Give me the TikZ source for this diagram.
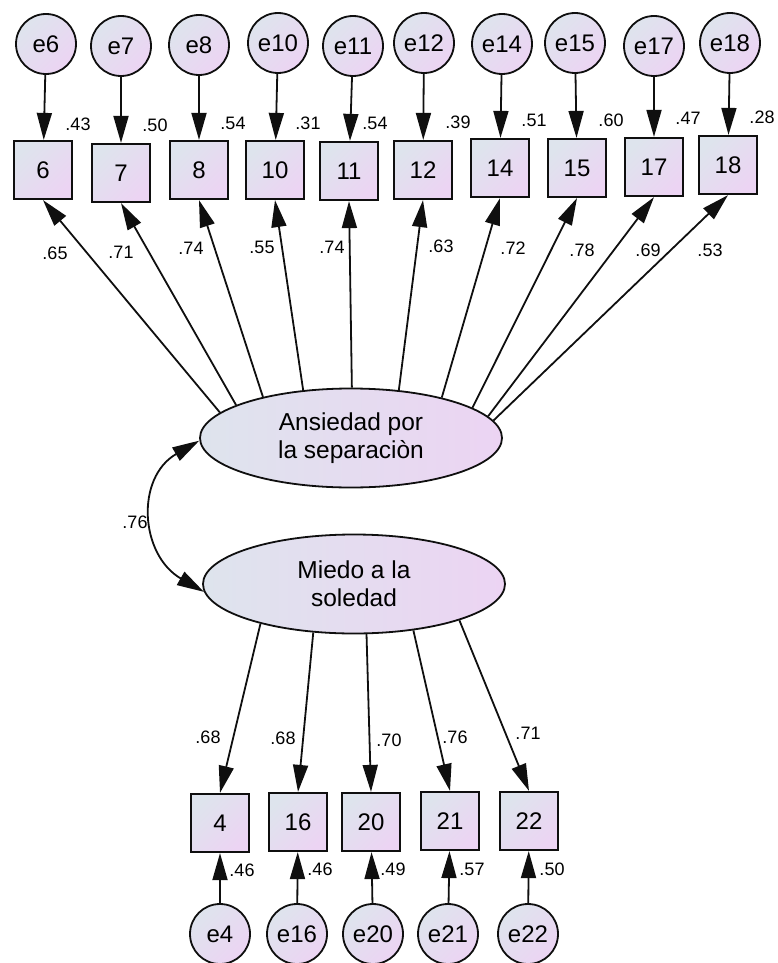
\documentclass[tikz,border=0pt]{standalone}
\usepackage{fontspec}
\setmainfont{Liberation Sans}
\usetikzlibrary{shapes.geometric,arrows.meta}
\definecolor{cA}{RGB}{222,228,237}
\definecolor{cB}{RGB}{236,212,243}
\definecolor{ink}{RGB}{15,15,15}
\begin{document}
\begin{tikzpicture}[x=1pt,y=-1pt,
  obs/.style={rectangle, draw=ink, line width=2.2pt, minimum width=58pt, minimum height=58pt,
    inner sep=0pt, top color=cA, bottom color=cB, shading angle=45,
    font=\fontsize{24}{28}\selectfont},
  err/.style={circle, draw=ink, line width=1.8pt, minimum size=60pt, inner sep=0pt,
    top color=cA, bottom color=cB, shading angle=45,
    font=\fontsize{24}{28}\selectfont},
  lat/.style={ellipse, draw=ink, line width=1.8pt, minimum width=302pt, minimum height=99pt,
    inner sep=0pt, left color=cA, right color=cB, align=center,
    font=\fontsize{24.5}{28}\selectfont},
  lab/.style={inner sep=0pt, font=\fontsize{18}{21}\selectfont},
  arr/.style={draw=ink, line width=1.8pt, -{Triangle[length=27pt,width=15pt]}},
  dbl/.style={draw=ink, line width=1.8pt, {Triangle[length=27pt,width=15pt]}-{Triangle[length=27pt,width=15pt]}}
]
\useasboundingbox (0,0) rectangle (778,963);

\node[lat] (E1) at (351,438) {Ansiedad por\\la separaciòn};
\node[lat] (E2) at (354,584) {Miedo a la\\soledad};

% top indicators
\foreach \n/\cx/\cy/\bx/\by/\rv/\rx/\ry/\lv/\lx/\ly/\a in {
  6/46/44/43/170/.43/78/124/.65/55/253/169.3,
  7/121/46/121/173/.50/155/125/.71/121/252/164.9,
  8/199/45/199/170/.54/233/123/.74/191/248/155.2,
  10/278/43/275/170/.31/308/123/.55/262/247/135,
  11/353/46/349/171/.54/375/123/.74/332/247/89,
  12/424/43/423/170/.39/458/122/.63/441/246/45,
  14/502/44/500/168/.51/534/120/.72/513/248/24.5,
  15/575/43/577/168/.60/611/120/.78/582/250/14.7,
  17/654/46/654/167/.47/688/118/.69/648/250/9.9,
  18/730/43/728/165/.28/762/117/.53/710/250/7.5}{
  \node[err] (e\n) at (\cx,\cy) {e\n};
  \node[obs] (b\n) at (\bx,\by) {\n};
  \node[lab] (r\n) at (\rx,\ry) {\rv};
  \node[lab] (l\n) at (\lx,\ly) {\lv};
  \draw[arr] (e\n) -- (b\n);
  \draw[arr] (E1.\a) -- (b\n.south);
}

% bottom indicators
\foreach \n/\bx/\by/\cx/\cy/\a/\lv/\lx/\ly/\rv/\rx/\ry in {
  4/220/823/220/934/203.6/.68/208/737/.46/242/870,
  16/298/822/297/934/230.1/.68/283/738/.46/320/869,
  20/371/822/373/934/284.3/.70/389/740/.49/393/869,
  21/450/821/448/934/322.7/.76/455/737/.57/472/869,
  22/529/821/528/934/341.1/.71/528/733/.50/552/869}{
  \node[obs] (b\n) at (\bx,\by) {\n};
  \node[err] (e\n) at (\cx,\cy) {e\n};
  \node[lab] (l\n) at (\lx,\ly) {\lv};
  \node[lab] (r\n) at (\rx,\ry) {\rv};
  \draw[arr] (e\n) -- (b\n);
  \draw[arr] (E2.\a) -- (b\n.north);
}

% covariance
\draw[dbl] (E1.181) to[out=210,in=150,looseness=1.25] (E2.183);
\node[lab] (cov) at (135,522) {.76};
\end{tikzpicture}
\end{document}
